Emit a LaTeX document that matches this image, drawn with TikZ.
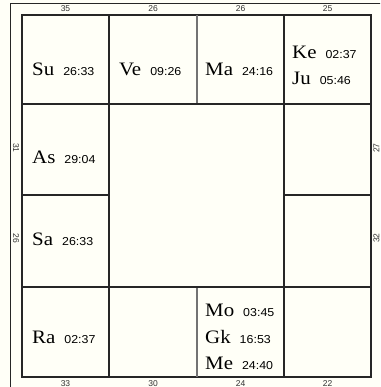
\documentclass[tikz,border=0pt]{standalone}
\usepackage{fontspec}
\setmainfont{Liberation Serif}[FakeStretch=1.1]
\newfontfamily\arial{Liberation Sans}[FakeStretch=1.08]
\newfontfamily\arialnum{Liberation Sans}
\usepackage{xcolor}
\definecolor{fondo}{HTML}{FFFFF7}
\definecolor{linea}{HTML}{262626}

% planeta con sus grados
\newcommand{\planeta}[2]{{\fontsize{19}{21}\selectfont #1}\hspace{9pt}{\arial\fontsize{11.5}{13}\selectfont #2}}

\begin{document}
\begin{tikzpicture}[x=1pt,y=-1pt,
			 casa/.style={draw=linea, line width=1.1pt},
			 texto/.style={anchor=base west, inner sep=0pt},
			 numero/.style={font=\arialnum\fontsize{8.5}{9}\selectfont, text=black!80, inner sep=0pt}
  		]

	%Fondo y recorte
		\useasboundingbox (0,0) rectangle (380,387);
		\fill[fondo] (0,0) rectangle (380,387);
		\clip (0,0) rectangle (380,387);

	%Marco exterior
		\draw[linea, line width=0.8pt] (10,3) rectangle (386,395);

	%Casas de la carta
		\draw[casa] (22,15) rectangle (371,377);
		\draw[casa] (109,15) -- (109,104);
		\draw[casa, draw=black!55, line width=1.6pt] (197,15) -- (197,104);
		\draw[casa] (284,15) -- (284,104);
		\draw[casa] (109,287) -- (109,377);
		\draw[casa, draw=black!55, line width=1.6pt] (197,287) -- (197,377);
		\draw[casa] (284,287) -- (284,377);
		\draw[casa] (22,104) -- (371,104);
		\draw[casa] (22,287) -- (371,287);
		\draw[casa] (22,195) -- (109,195);
		\draw[casa] (284,195) -- (371,195);
		\draw[casa] (109,104) -- (109,287);
		\draw[casa] (284,104) -- (284,287);

	%Numeros de arriba y de abajo
		\node[numero] (n1) at (65.5,9) {35};
		\node[numero] (n2) at (153,9) {26};
		\node[numero] (n3) at (240.5,9) {26};
		\node[numero] (n4) at (327.5,9) {25};
		\node[numero] (n5) at (65.5,383.5) {33};
		\node[numero] (n6) at (153,383.5) {30};
		\node[numero] (n7) at (240.5,383.5) {24};
		\node[numero] (n8) at (327.5,383.5) {22};
	%Numeros de los lados
		\node[numero, rotate=-90] (n9) at (16,148) {31};
		\node[numero, rotate=-90] (n10) at (16,238) {26};
		\node[numero, rotate=90] (n11) at (376.5,148) {27};
		\node[numero, rotate=90] (n12) at (376.5,238) {32};

	%Planetas
		\node[texto] (su) at (32,76) {\planeta{Su}{26:33}};
		\node[texto] (ve) at (119,76) {\planeta{Ve}{09:26}};
		\node[texto] (ma) at (205,76) {\planeta{Ma}{24:16}};
		\node[texto] (ke) at (292,59) {\planeta{Ke}{02:37}};
		\node[texto] (ju) at (292,85) {\planeta{Ju}{05:46}};
		\node[texto] (as) at (32,164) {\planeta{As}{29:04}};
		\node[texto] (sa) at (32,245) {\planeta{Sa}{26:33}};
		\node[texto] (ra) at (32,343) {\planeta{Ra}{02:37}};
		\node[texto] (mo) at (205,316) {\planeta{Mo}{03:45}};
		\node[texto] (gk) at (205,343) {\planeta{Gk}{16:53}};
		\node[texto] (me) at (205,369) {\planeta{Me}{24:40}};
	\end{tikzpicture}
\end{document}
